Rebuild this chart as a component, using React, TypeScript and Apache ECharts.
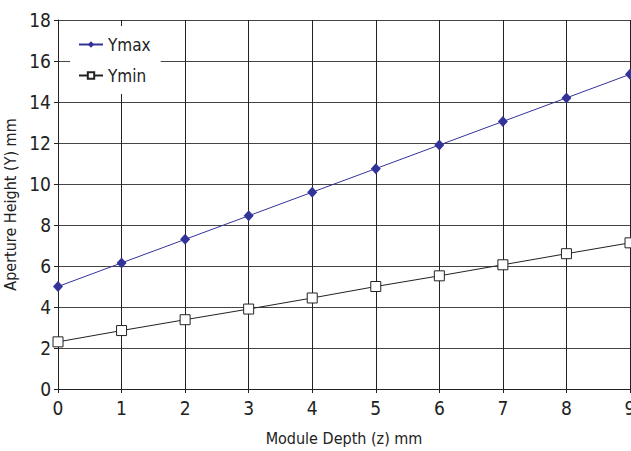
import React, { useEffect, useRef } from "react";
import * as echarts from "echarts";

const depthCategories = [0, 1, 2, 3, 4, 5, 6, 7, 8, 9];
const yMaxValues = [5.0, 6.15, 7.3, 8.45, 9.6, 10.75, 11.9, 13.05, 14.2, 15.35];
const yMinValues = [2.3, 2.85, 3.38, 3.9, 4.44, 5.0, 5.52, 6.06, 6.6, 7.13];
const seriesNames = ["Ymax", "Ymin"];
const xTitle = "Module Depth (z) mm";
const yTitle = "Aperture Height (Y) mm";

const FONT = "'DejaVu Sans Condensed', 'Liberation Sans Narrow', 'Liberation Sans', Arial, sans-serif";

export default function App() {
  const ref = useRef<HTMLDivElement>(null);
  useEffect(() => {
    if (!ref.current) return;
    const chart = echarts.init(ref.current, undefined, { renderer: "svg" });
    chart.setOption({
      animation: false,
      backgroundColor: "#fff",
      textStyle: { fontFamily: FONT },
      grid: { left: 58, top: 20, right: 1, bottom: 62, containLabel: false, outerBoundsMode: "none" },
      legend: {
        orient: "vertical",
        left: 70,
        top: 26,
        backgroundColor: "#fff",
        padding: [10, 10, 10, 8],
        itemWidth: 24,
        itemHeight: 8,
        itemGap: 14,
        textStyle: { fontSize: 17, color: "#222", fontFamily: FONT },
        data: seriesNames,
      },
      xAxis: {
        type: "value",
        min: 0,
        max: 9,
        interval: 1,
        name: xTitle,
        nameLocation: "middle",
        nameGap: 41,
        nameTextStyle: { fontSize: 16, color: "#222", fontFamily: FONT },
        axisLine: { show: true, onZero: false, lineStyle: { color: "#222", width: 1 } },
        axisTick: { show: true, length: 4, lineStyle: { color: "#222" } },
        axisLabel: { fontSize: 19, color: "#222", margin: 9, fontFamily: FONT },
        splitLine: { show: true, lineStyle: { color: "#222", width: 1 } },
      },
      yAxis: {
        type: "value",
        min: 0,
        max: 18,
        interval: 2,
        name: yTitle,
        nameLocation: "middle",
        nameGap: 37,
        nameTextStyle: { fontSize: 16, color: "#222", fontFamily: FONT },
        axisLine: { show: true, lineStyle: { color: "#222", width: 1 } },
        axisTick: { show: true, length: 4, lineStyle: { color: "#222" } },
        axisLabel: { fontSize: 19, color: "#222", margin: 7, fontFamily: FONT },
        splitLine: { show: true, lineStyle: { color: "#444", width: 1 } },
      },
      series: [
        {
          name: seriesNames[0],
          type: "line",
          data: depthCategories.map((x, i) => [x, yMaxValues[i]]),
          symbol: "diamond",
          symbolSize: [10, 11],
          lineStyle: { color: "#333399", width: 1 },
          itemStyle: { color: "#333399" },
          z: 3,
        },
        {
          name: seriesNames[1],
          type: "line",
          data: depthCategories.map((x, i) => [x, yMinValues[i]]),
          symbol: "rect",
          symbolSize: 10,
          lineStyle: { color: "#222", width: 1 },
          itemStyle: { color: "#fff", borderColor: "#222", borderWidth: 1 },
          z: 3,
        },
      ],
    });
    return () => chart.dispose();
  }, []);
  return (
    <div
      ref={ref}
      style={{ position: "fixed", left: 0, top: 0, width: 631, height: 451 }}
    />
  );
}
